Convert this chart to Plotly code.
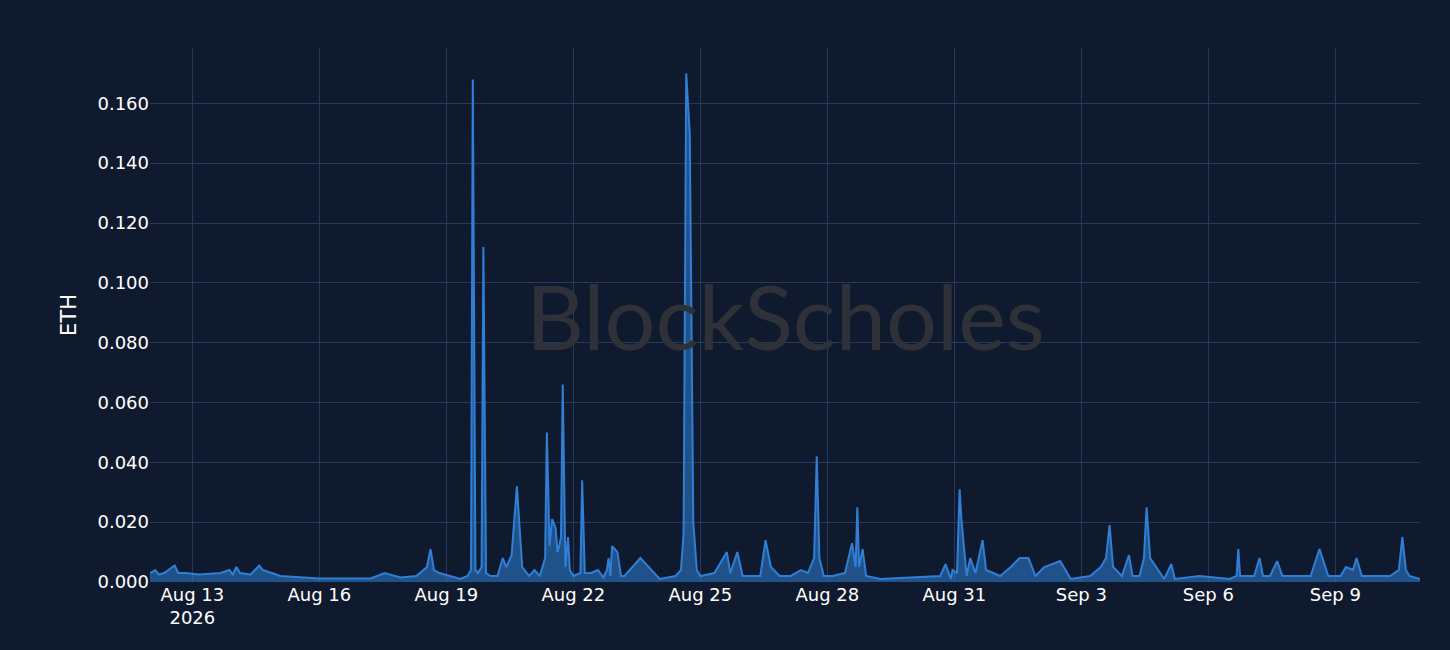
import pandas as pd
import plotly.graph_objects as go

START = pd.Timestamp("2026-08-12 00:00")

# hours after START, and the ETH value at that time
HOURS = [0, 3, 5, 8, 14, 16, 20, 28, 40, 45, 47, 49, 51, 57, 62, 64, 74, 96, 110, 125, 133, 142, 151, 157,
         159, 161, 164, 176, 180, 182, 183, 184.5, 186, 188, 189, 190.5, 193, 197, 200, 202, 205, 208, 211,
         215, 218, 221, 224, 225, 226.5, 228, 230, 231, 232, 233, 234, 235.5, 237, 238, 240, 244, 245, 246.5,
         250, 254, 257, 259, 260, 261, 262, 265, 267, 269, 278, 281, 289, 298, 301, 302.5, 304, 306, 308,
         310, 312, 320, 327, 329, 333, 336, 346, 349, 352, 357, 363, 369, 373, 376.5, 378, 379.5, 382, 387,
         394, 398, 400, 401, 402, 404, 406, 414, 430, 448, 451, 454, 455, 457.5, 459, 460, 463, 465, 468,
         472, 474, 482, 488, 493, 498, 502, 507, 516, 522, 533, 539, 542, 544, 546, 551, 555, 557, 561,
         563.5, 565, 567, 575, 579, 581, 595, 612, 616, 617, 618, 626, 629, 631, 635, 639, 642, 658, 663,
         668, 675, 678, 682, 684, 687, 703, 708, 710, 712, 714, 720]
ETH = [0.003, 0.004, 0.0025, 0.003, 0.0055, 0.003, 0.003, 0.0025, 0.003, 0.004, 0.0025, 0.005, 0.003,
       0.0025, 0.0055, 0.004, 0.002, 0.0012, 0.0012, 0.0012, 0.003, 0.0015, 0.002, 0.005,
       0.011, 0.004, 0.003, 0.001, 0.002, 0.004, 0.168, 0.004, 0.003, 0.005, 0.112, 0.003, 0.002, 0.002,
       0.008, 0.005, 0.009, 0.032, 0.005, 0.002, 0.004, 0.002, 0.008, 0.050, 0.012, 0.021, 0.018, 0.010,
       0.012, 0.015, 0.066, 0.005, 0.015, 0.004, 0.002, 0.003, 0.034, 0.003, 0.003, 0.004, 0.0015, 0.004,
       0.008, 0.002, 0.012, 0.010, 0.002, 0.002, 0.008, 0.006, 0.001, 0.002, 0.004, 0.016, 0.170, 0.150,
       0.020, 0.004, 0.002, 0.003, 0.010, 0.003, 0.010, 0.002, 0.002, 0.014, 0.005, 0.002, 0.002, 0.004,
       0.003, 0.008, 0.042, 0.008, 0.002, 0.002, 0.003, 0.013, 0.005, 0.025, 0.005, 0.011, 0.002, 0.001,
       0.0015, 0.002, 0.006, 0.001, 0.004, 0.003, 0.031, 0.021, 0.002, 0.008, 0.003, 0.014, 0.004, 0.002,
       0.005, 0.008, 0.008, 0.002, 0.005, 0.007, 0.001, 0.002, 0.005, 0.008, 0.019, 0.005, 0.002, 0.009,
       0.002, 0.002, 0.008, 0.025, 0.008, 0.001, 0.006, 0.001, 0.002, 0.001, 0.002, 0.011, 0.002, 0.002,
       0.008, 0.002, 0.002, 0.007, 0.002, 0.002, 0.011, 0.002, 0.002, 0.005, 0.004, 0.008, 0.002, 0.002,
       0.004, 0.015, 0.004, 0.002, 0.001]

times = [START + pd.Timedelta(hours=h) for h in HOURS]

BG = "#101a2e"
GRID = "#26385c"

fig = go.Figure(go.Scatter(
    x=times, y=ETH, mode="lines", fill="tozeroy",
    line=dict(color="#2f7fd6", width=2),
    fillcolor="rgba(47,127,214,0.55)",
))

fig.add_annotation(
    text="BlockScholes", xref="paper", yref="paper", x=0.5, y=0.5,
    showarrow=False, font=dict(size=90, color="#2e3238", family="Lato"),
)

fig.update_xaxes(
    range=[START, START + pd.Timedelta(days=30)],
    tick0="2026-08-13", dtick=3 * 86400000,
    showgrid=True, gridcolor=GRID, zeroline=False,
    tickfont=dict(size=18, color="white"),
)
fig.update_yaxes(
    range=[0, 0.1785], dtick=0.02, tickformat=".3f",
    showgrid=True, gridcolor=GRID, zeroline=False,
    tickfont=dict(size=18, color="white"),
    title=dict(text="ETH", font=dict(size=21, color="white")),
)
fig.update_layout(
    paper_bgcolor=BG, plot_bgcolor=BG, showlegend=False,
    font_family="DejaVu Sans",
    margin=dict(t=48, b=68, l=150, r=30),
    width=1450, height=650,
)
fig.write_html(
    "out.html",
    config={"displayModeBar": False},
    post_script="document.body.style.margin='0';document.body.style.background='#101a2e';",
)
